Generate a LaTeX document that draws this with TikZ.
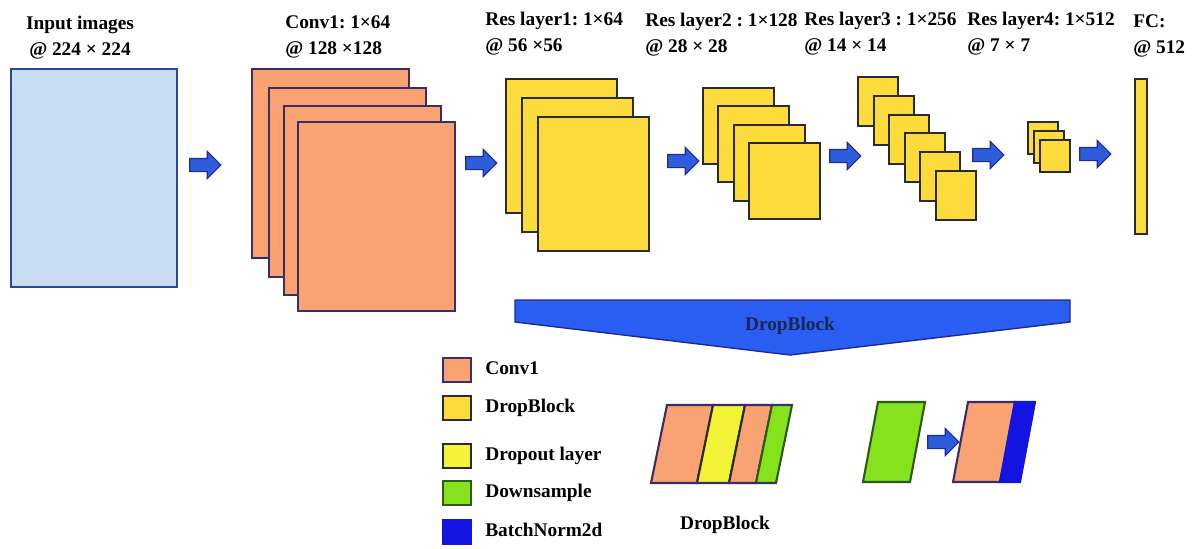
\documentclass[tikz,border=0pt]{standalone}
\usepackage{fontspec}
\setmainfont{Liberation Serif}
\usepackage{tikz}
\usetikzlibrary{shapes.arrows}
\usepackage{xcolor}
\frenchspacing

\definecolor{inblue}{HTML}{C8DCF2}
\definecolor{inline}{HTML}{2C4796}
\definecolor{convor}{HTML}{F9A272}
\definecolor{convline}{HTML}{3A2D6A}
\definecolor{resyel}{HTML}{FCDC3C}
\definecolor{resline}{HTML}{2B2B2B}
\definecolor{arrblue}{HTML}{2E5CDA}
\definecolor{arrline}{HTML}{1B2C96}
\definecolor{barblue}{HTML}{2A5EF2}
\definecolor{dropyel}{HTML}{F2F236}
\definecolor{dsgreen}{HTML}{86E21C}
\definecolor{dsline}{HTML}{2D5A14}
\definecolor{bnblue}{HTML}{1414E0}
\definecolor{bartext}{HTML}{1C2452}

\begin{document}
\begin{tikzpicture}[x=0.02cm, y=-0.02cm,
		inp/.style = {rectangle, draw=inline, fill=inblue, line width=1.4pt, anchor=north west, inner sep=0, minimum width=3.32cm, minimum height=4.36cm},
		cv/.style = {rectangle, draw=convline, fill=convor, line width=1.2pt, anchor=north west, inner sep=0, minimum width=3.14cm, minimum height=3.78cm},
		rs/.style = {rectangle, draw=resline, fill=resyel, line width=1.2pt, anchor=north west, inner sep=0},
		arr/.style = {single arrow, draw=arrline, fill=arrblue, line width=0.6pt, inner xsep=0, inner ysep=0.12cm, single arrow head extend=0.14cm, minimum height=0.62cm},
		lbl/.style = {anchor=base west, align=left, inner sep=0, font=\fontsize{11}{14.5}\selectfont\bfseries},
		leg/.style = {rectangle, line width=1.2pt, anchor=north west, inner sep=0, minimum width=0.56cm, minimum height=0.48cm},
		legt/.style = {anchor=mid west, inner sep=0, font=\fontsize{11}{13}\selectfont\bfseries}
		]
		\useasboundingbox (0,0) rectangle (1194,548);

		%Labels
		\node[lbl, align=center, anchor=base]	(tin)	at	(80, 55)	{Input images\\@ 224 × 224};
		\node[lbl]	(tc1)	at	(285, 54)	{Conv1: 1×64\\@ 128 ×128};
		\node[lbl]	(tr1)	at	(485, 51)	{Res layer1: 1×64\\@ 56 ×56};
		\node[lbl]	(tr2)	at	(645, 52)	{Res layer2 : 1×128\\@ 28 × 28};
		\node[lbl]	(tr3)	at	(804, 51)	{Res layer3 : 1×256\\@ 14 × 14};
		\node[lbl]	(tr4)	at	(967, 51)	{Res layer4: 1×512\\@ 7 × 7};
		\node[lbl]	(tfc)	at	(1133, 53)	{FC:\\@ 512};

		%Input
		\node[inp]	(in)	at	(10, 68)	{};

		%Conv1
		\node[cv]	(c1a)	at	(251, 68)	{};
		\node[cv]	(c1b)	at	(268, 87)	{};
		\node[cv]	(c1c)	at	(283, 105)	{};
		\node[cv]	(c1d)	at	(297, 121)	{};

		%Res layer1
		\node[rs, minimum width=2.22cm, minimum height=2.68cm]	(r1a)	at	(505, 78)	{};
		\node[rs, minimum width=2.22cm, minimum height=2.68cm]	(r1b)	at	(521, 97)	{};
		\node[rs, minimum width=2.22cm, minimum height=2.68cm]	(r1c)	at	(537, 116)	{};

		%Res layer2
		\node[rs, minimum width=1.42cm, minimum height=1.52cm]	(r2a)	at	(702, 87)	{};
		\node[rs, minimum width=1.42cm, minimum height=1.52cm]	(r2b)	at	(717, 105)	{};
		\node[rs, minimum width=1.42cm, minimum height=1.52cm]	(r2c)	at	(733, 124)	{};
		\node[rs, minimum width=1.42cm, minimum height=1.52cm]	(r2d)	at	(748, 142)	{};

		%Res layer3
		\node[rs, minimum width=0.8cm, minimum height=0.98cm]	(r3a)	at	(857, 76)	{};
		\node[rs, minimum width=0.8cm, minimum height=0.98cm]	(r3b)	at	(873, 95)	{};
		\node[rs, minimum width=0.8cm, minimum height=0.98cm]	(r3c)	at	(888, 114)	{};
		\node[rs, minimum width=0.8cm, minimum height=0.98cm]	(r3d)	at	(904, 132)	{};
		\node[rs, minimum width=0.8cm, minimum height=0.98cm]	(r3e)	at	(919, 151)	{};
		\node[rs, minimum width=0.8cm, minimum height=0.98cm]	(r3f)	at	(935, 170)	{};

		%Res layer4
		\node[rs, minimum width=0.6cm, minimum height=0.64cm]	(r4a)	at	(1027, 121)	{};
		\node[rs, minimum width=0.6cm, minimum height=0.64cm]	(r4b)	at	(1033, 130)	{};
		\node[rs, minimum width=0.6cm, minimum height=0.64cm]	(r4c)	at	(1039, 139)	{};

		%FC
		\node[rs, minimum width=0.24cm, minimum height=3.1cm]	(fc)	at	(1134, 78)	{};

		%Arrows
		\node[arr]	(a1)	at	(202, 165)	{};
		\node[arr]	(a2)	at	(478, 163)	{};
		\node[arr]	(a3)	at	(680, 161)	{};
		\node[arr]	(a4)	at	(842, 156)	{};
		\node[arr]	(a5)	at	(985, 155)	{};
		\node[arr]	(a6)	at	(1092, 154)	{};

		%DropBlock bar
		\filldraw[fill=barblue, draw=arrline, line width=0.8pt]	(515, 300) -- (1070, 300) -- (1070, 322) -- (790, 355) -- (515, 322) -- cycle;
		\node[font=\fontsize{11}{13}\selectfont\bfseries, text=bartext]	(bar)	at	(790, 326)	{DropBlock};

		%Legend
		\node[leg, draw=convline, fill=convor]	(l1)	at	(442, 357)	{};
		\node[leg, draw=resline, fill=resyel]	(l2)	at	(442, 395)	{};
		\node[leg, draw=resline, fill=dropyel]	(l3)	at	(442, 443)	{};
		\node[leg, draw=dsline, fill=dsgreen]	(l4)	at	(442, 480)	{};
		\node[leg, draw=bnblue, fill=bnblue]	(l5)	at	(442, 519)	{};
		\node[legt]	(t1)	at	(485, 370)	{Conv1};
		\node[legt]	(t2)	at	(485, 408)	{DropBlock};
		\node[legt]	(t3)	at	(485, 456)	{Dropout layer};
		\node[legt]	(t4)	at	(485, 493)	{Downsample};
		\node[legt]	(t5)	at	(485, 532)	{BatchNorm2d};

		%DropBlock block
		\filldraw[fill=convor, draw=convline, line width=1.2pt]	(651, 483) -- (667, 405) -- (713, 405) -- (697, 483) -- cycle;
		\filldraw[fill=dropyel, draw=resline, line width=1.2pt]	(697, 483) -- (713, 405) -- (745, 405) -- (729, 483) -- cycle;
		\filldraw[fill=convor, draw=resline, line width=1.2pt]	(729, 483) -- (745, 405) -- (772, 405) -- (756, 483) -- cycle;
		\filldraw[fill=dsgreen, draw=dsline, line width=1.2pt]	(756, 483) -- (772, 405) -- (792, 405) -- (776, 483) -- cycle;
		\draw[draw=convline, line width=1.2pt]	(651, 483) -- (776, 483) (667, 405) -- (792, 405);
		\node[font=\fontsize{11}{13}\selectfont\bfseries]	(cap)	at	(725, 525)	{DropBlock};

		%Downsample block
		\filldraw[fill=dsgreen, draw=dsline, line width=1.2pt]	(863, 482) -- (878, 402) -- (925, 402) -- (910, 482) -- cycle;
		\node[arr]	(a7)	at	(940, 442)	{};
		\filldraw[fill=convor, draw=convline, line width=1.2pt]	(953, 482) -- (968, 402) -- (1015, 402) -- (1000, 482) -- cycle;
		\filldraw[fill=bnblue, draw=bnblue, line width=1.2pt]	(1000, 482) -- (1015, 402) -- (1035, 402) -- (1020, 482) -- cycle;
	\end{tikzpicture}
\end{document}
